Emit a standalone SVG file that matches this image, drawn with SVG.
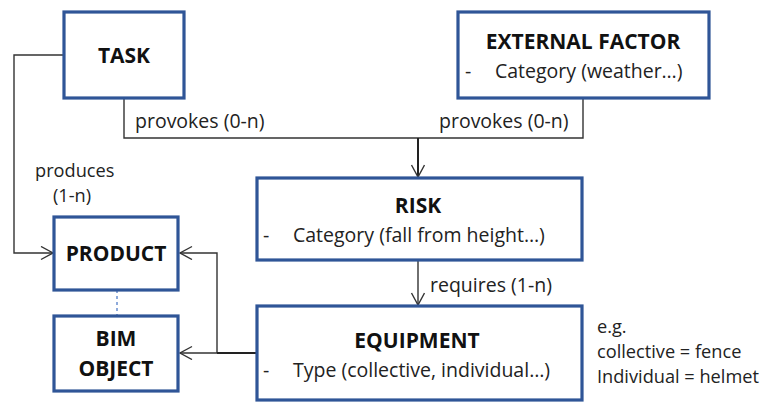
<svg xmlns="http://www.w3.org/2000/svg" width="775" height="403" viewBox="0 0 775 403">
<defs>
<style>
.box{fill:#fff;stroke:#2F5597;stroke-width:3.2}
.t{font-family:"Open Sans","Liberation Sans",sans-serif;font-size:19.5px;fill:#222}
.s{font-family:"Open Sans","Liberation Sans",sans-serif;font-size:18.2px;fill:#222}
.b{font-family:"Open Sans","Liberation Sans",sans-serif;font-size:21px;font-weight:bold;fill:#111}
.ln{fill:none;stroke:#333;stroke-width:1.4}
.thk{fill:none;stroke:#222;stroke-width:2}
</style>
<marker id="arr" markerUnits="userSpaceOnUse" markerWidth="16" markerHeight="16" refX="13" refY="7" orient="auto">
<path d="M1,0.5 L13,7 L1,13.5" fill="none" stroke="#333" stroke-width="1.4"/>
</marker>
</defs>
<g id="connectors">
<path class="ln" d="M64,55 H14 V253 H53" marker-end="url(#arr)"/>
<path class="ln" d="M124,98 V138 H583 V98"/>
<path class="thk" d="M418,138 V177" marker-end="url(#arr)"/>
<path class="ln" d="M418,260 V305" marker-end="url(#arr)"/>
<path class="ln" d="M217,353 V253 H180" marker-end="url(#arr)"/>
<path class="ln" d="M257,353 H180" marker-end="url(#arr)"/>
<path class="thk" d="M217,353 H257"/>
<path d="M117,290 V316" fill="none" stroke="#4472C4" stroke-width="1.2" stroke-dasharray="3,3"/>
<text class="t" x="135" y="128">provokes (0-n)</text>
<text class="t" x="439" y="128">provokes (0-n)</text>
<text class="s" x="35" y="177">produces</text>
<text class="s" x="53" y="202">(1-n)</text>
<text class="t" x="430" y="292">requires (1-n)</text>
</g>
<g id="task">
<rect class="box" x="64" y="12" width="120" height="86"/>
<text class="b" x="124" y="63" text-anchor="middle">TASK</text>
</g>
<g id="external-factor">
<rect class="box" x="458" y="12" width="251" height="86"/>
<text class="b" x="583" y="49" text-anchor="middle">EXTERNAL FACTOR</text>
<text class="t" x="465" y="78">-</text>
<text class="t" x="495" y="78">Category (weather…)</text>
</g>
<g id="risk">
<rect class="box" x="257" y="178" width="325" height="82"/>
<text class="b" x="418" y="213" text-anchor="middle">RISK</text>
<text class="t" x="263" y="242">-</text>
<text class="t" x="293" y="242">Category (fall from height…)</text>
</g>
<g id="equipment">
<rect class="box" x="257" y="306" width="325" height="94"/>
<text class="b" x="417" y="348" text-anchor="middle">EQUIPMENT</text>
<text class="t" x="263" y="377">-</text>
<text class="t" x="293" y="377">Type (collective, individual…)</text>
</g>
<g id="product">
<rect class="box" x="54" y="217" width="124" height="73"/>
<text class="b" x="116" y="261" text-anchor="middle">PRODUCT</text>
</g>
<g id="bim-object">
<rect class="box" x="54" y="316" width="124" height="75"/>
<text class="b" x="116" y="346" text-anchor="middle">BIM</text>
<text class="b" x="116" y="376" text-anchor="middle">OBJECT</text>
</g>
<g id="note">
<text class="s" x="597" y="333">e.g.</text>
<text class="s" x="597" y="358">collective = fence</text>
<text class="s" x="597" y="383">Individual = helmet</text>
</g>
</svg>
